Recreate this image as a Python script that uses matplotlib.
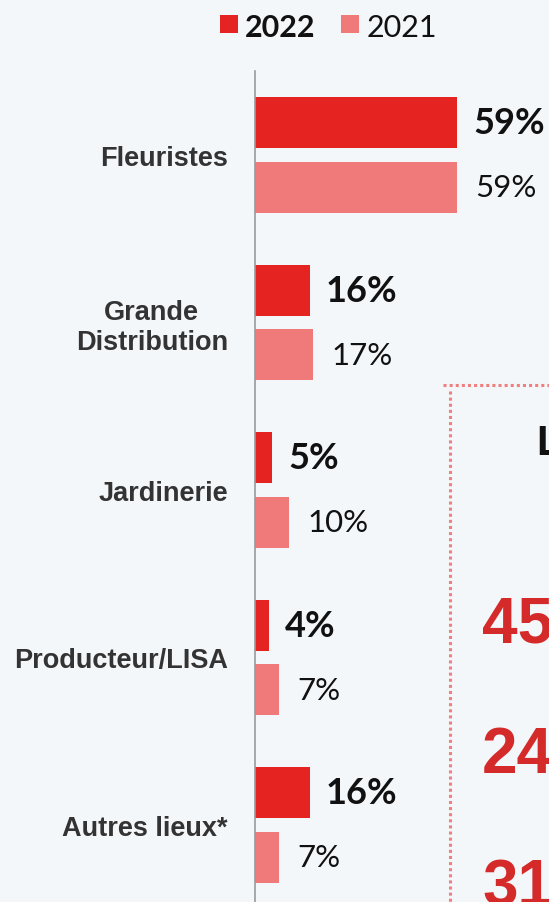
import matplotlib
matplotlib.use("Agg")
import matplotlib.pyplot as plt
from matplotlib.lines import Line2D
from matplotlib.patches import Rectangle

categories = ["Fleuristes", "Grande\nDistribution", "Jardinerie", "Producteur/LISA", "Autres lieux*"]
values_2022 = [59, 16, 5, 4, 16]
values_2021 = [59, 17, 10, 7, 7]
series_names = ["2022", "2021"]
side_numbers = ["45", "24", "31"]

W, H = 549, 903
BG = "#f4f7fa"
RED = "#e52421"
PINK = "#f07a7a"

fig = plt.figure(figsize=(W / 100, H / 100), dpi=100, facecolor=BG)

def fx(x):
    return x / W

def fy(y):
    return 1 - y / H

# main axes
ax = fig.add_axes([fx(255), 0, (W - 255) / W, (H - 72) / H])
ax.set_facecolor("none")
scale = 202 / 59.0
ax.set_xlim(0, (W - 255) / scale)
ax.set_ylim(4.46, -0.5015)

bh = 0.305
off = 0.193
ys = list(range(len(categories)))
ax.barh([y - off for y in ys], values_2022, height=bh, color=RED, linewidth=0)
ax.barh([y + off for y in ys], values_2021, height=bh, color=PINK, linewidth=0)

for y, v in zip(ys, values_2022):
    ax.annotate(f"{v}%", (v, y - off), xytext=(11.5, 0), textcoords="offset points",
                ha="left", va="center", fontsize=26, fontweight="bold",
                family="Lato", color="#111111", annotation_clip=False)
for y, v in zip(ys, values_2021):
    ax.annotate(f"{v}%", (v, y + off), xytext=(13, 0), textcoords="offset points",
                ha="left", va="center", fontsize=22.5, fontweight="normal",
                family="Lato", color="#111111", annotation_clip=False)

ax.set_yticks(ys)
ax.set_yticklabels(categories, fontsize=19.5, fontweight="bold",
                   family="Liberation Sans", color="#333333", multialignment="center",
                   linespacing=1.2)
ax.tick_params(axis="y", length=0, pad=19.5)
ax.set_xticks([])
for s in ["top", "right", "bottom"]:
    ax.spines[s].set_visible(False)
ax.spines["left"].set_color("#9a9a9a")
ax.spines["left"].set_linewidth(1.2)

# legend
fig.patches.append(Rectangle((fx(220), fy(34)), 18 / W, 18 / H, transform=fig.transFigure,
                             color=RED, linewidth=0))
fig.text(fx(245), fy(37), series_names[0], fontsize=22, fontweight="bold", family="Lato",
         color="#111111", ha="left", va="baseline")
fig.patches.append(Rectangle((fx(341), fy(34)), 18 / W, 18 / H, transform=fig.transFigure,
                             color=PINK, linewidth=0))
fig.text(fx(367), fy(37), series_names[1], fontsize=22, fontweight="normal", family="Lato",
         color="#111111", ha="left", va="baseline")

# partial side box (cropped neighbouring panel)
fig.lines.append(Line2D([fx(443), fx(552)], [fy(386), fy(386)], transform=fig.transFigure,
                        color="#f08080", linewidth=2.2, dashes=(1, 1), solid_capstyle="butt",
                        dash_capstyle="butt"))
fig.lines.append(Line2D([fx(450), fx(450)], [fy(392), fy(910)], transform=fig.transFigure,
                        color="#f08080", linewidth=2.2, dashes=(1, 1), dash_capstyle="butt"))
fig.text(fx(536), fy(455), "L", fontsize=30, fontweight="bold", family="Liberation Sans",
         color="#111111", ha="left", va="baseline")
for num, yb in zip(side_numbers, [643, 773, 906]):
    fig.text(fx(482), fy(yb), num, fontsize=46, fontweight="bold", family="Liberation Sans",
             color="#d42a2a", ha="left", va="baseline")

fig.savefig("out.png", dpi=100, facecolor=BG)
